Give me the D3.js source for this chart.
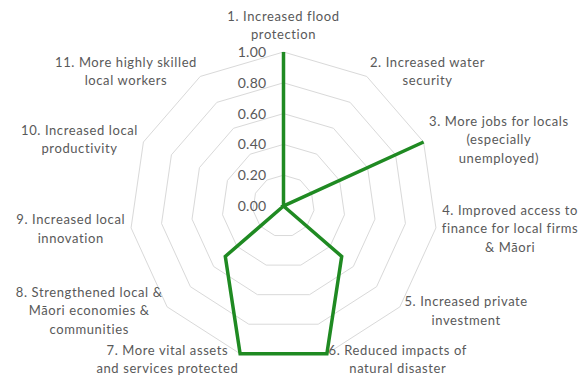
<!DOCTYPE html>
<html>
<head>
<meta charset="utf-8">
<script src="https://cdn.jsdelivr.net/npm/d3@7"></script>
<style>
  html, body { margin: 0; padding: 0; background: #fff; }
  svg { display: block; }
  text { font-family: Lato, "Open Sans", sans-serif; fill: #595959; }
</style>
</head>
<body>
<svg id="chart" width="583" height="379"></svg>
<script>
const categories = [
  ["1. Increased flood", "protection"],
  ["2. Increased water", "security"],
  ["3. More jobs for locals", "(especially", "unemployed)"],
  ["4. Improved access to", "finance for local firms", "& Māori"],
  ["5. Increased private", "investment"],
  ["6. Reduced impacts of", "natural disaster"],
  ["7. More vital assets", "and services protected"],
  ["8. Strengthened local &", "Māori economies &", "communities"],
  ["9. Increased local", "innovation"],
  ["10. Increased local", "productivity"],
  ["11. More highly skilled", "local workers"]
];
const values = [1, 0, 1, 0, 0.5, 1, 1, 0.5, 0, 0, 0];
const tickValues = [0, 0.2, 0.4, 0.6, 0.8, 1.0];

const svg = d3.select("#chart");
const cx = 283.5, cy = 206, R = 154;
const n = categories.length;
const r = d3.scaleLinear().domain([0, 1]).range([0, R]);
const angle = i => i * 2 * Math.PI / n;
const pt = (i, v) => [cx + r(v) * Math.sin(angle(i)), cy - r(v) * Math.cos(angle(i))];

// grid polygons
const g = svg.append("g");
tickValues.filter(t => t > 0).forEach(t => {
  const pts = d3.range(n).map(i => pt(i, t));
  g.append("path")
    .attr("d", d3.line()(pts) + "Z")
    .attr("fill", "none")
    .attr("stroke", "#d9d9d9")
    .attr("stroke-width", 1);
});

// tick labels
svg.append("g").selectAll("text").data(tickValues).join("text")
  .attr("x", cx - 17)
  .attr("y", d => cy - r(d))
  .attr("dy", "0.35em")
  .attr("text-anchor", "end")
  .attr("font-size", 14)
  .attr("letter-spacing", 0.3)
  .text(d => d3.format(".2f")(d));

// data line
const line = d3.lineRadial()
  .angle((d, i) => angle(i))
  .radius(d => r(d))
  .curve(d3.curveLinearClosed);
svg.append("path")
  .attr("transform", `translate(${cx},${cy})`)
  .attr("d", line(values))
  .attr("fill", "none")
  .attr("stroke", "#1f8a22")
  .attr("stroke-width", 3.5)
  .attr("stroke-linejoin", "miter");

// category labels
const lh = 18.5, gap = 6;
categories.forEach((lines, i) => {
  const a = angle(i);
  const s = Math.sin(a), c = Math.cos(a);
  const px = cx + (R + gap) * s, py = cy - (R + gap) * c;
  const t = svg.append("text").attr("font-size", 13).attr("letter-spacing", 0.6).attr("text-anchor", "middle");
  lines.forEach((l, k) => t.append("tspan").text(l));
  const widths = [];
  t.selectAll("tspan").each(function () { widths.push(this.getComputedTextLength()); });
  const w = d3.max(widths);
  const h = lines.length * lh;
  let bx, by;
  if (Math.abs(s) < 1e-6) {
    bx = px; by = py - h / 2 - 2;
  } else if (s > 0) {
    bx = px + w / 2; by = py;
  } else {
    bx = px - w / 2; by = py;
  }
  t.selectAll("tspan")
    .attr("x", bx)
    .attr("y", (d, k) => by - h / 2 + lh * (k + 0.5))
    .attr("dy", "0.35em");
});
</script>
</body>
</html>
